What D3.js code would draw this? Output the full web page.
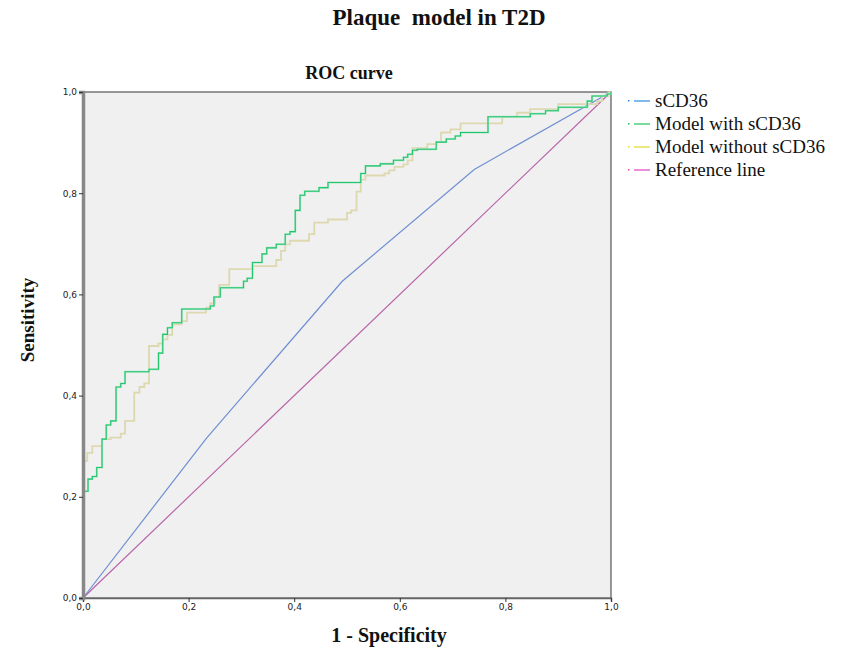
<!DOCTYPE html>
<html lang="en">
  <head>
    <meta charset="utf-8">
    <title>Plaque model in T2D | ROC curve</title>
    <script type="text/javascript" src="https://cdn.jsdelivr.net/npm/d3@7"></script>
    <style>
    body { margin: 0; background: #fff; }
    .tick text { font-family: "DejaVu Sans", sans-serif; font-size: 9px; fill: #222; }
    .ttl { font-family: "Liberation Serif", serif; font-weight: bold; fill: #111; }
    .leg { font-family: "Liberation Serif", serif; font-size: 19px; fill: #111; }
    </style>
  </head>
  <body>
    <div id="vis"></div>
    <script type="text/javascript">

      // values: [1 - specificity, sensitivity]
      var sCD36 = [[0, 0], [0.234, 0.316], [0.491, 0.626], [0.741, 0.847], [1, 1]];

      var withSCD36 = [
        [0, 0], [0, 0.211], [0.0095, 0.235], [0.0176, 0.240], [0.026, 0.258], [0.036, 0.314],
        [0.044, 0.342], [0.0525, 0.350], [0.0626, 0.417], [0.0715, 0.424], [0.0796, 0.447],
        [0.125, 0.452], [0.143, 0.484], [0.151, 0.521], [0.160, 0.534], [0.169, 0.544],
        [0.187, 0.571], [0.241, 0.577], [0.248, 0.595], [0.260, 0.613], [0.304, 0.626],
        [0.311, 0.632], [0.321, 0.663], [0.339, 0.680], [0.348, 0.692], [0.366, 0.699],
        [0.383, 0.719], [0.392, 0.724], [0.402, 0.766], [0.411, 0.796], [0.420, 0.804],
        [0.447, 0.811], [0.464, 0.821], [0.526, 0.839], [0.535, 0.854], [0.563, 0.858],
        [0.588, 0.865], [0.607, 0.871], [0.615, 0.877], [0.624, 0.885], [0.633, 0.887],
        [0.669, 0.901], [0.688, 0.907], [0.705, 0.913], [0.715, 0.920], [0.767, 0.951],
        [0.847, 0.957], [0.876, 0.963], [0.900, 0.970], [0.955, 0.982], [0.964, 0.992],
        [0.993, 0.996], [1, 1]
      ];

      var withoutSCD36 = [
        [0, 0], [0, 0.271], [0.008, 0.287], [0.0176, 0.300], [0.036, 0.314], [0.0525, 0.317],
        [0.0715, 0.325], [0.0796, 0.350], [0.097, 0.406], [0.107, 0.417], [0.116, 0.424],
        [0.125, 0.498], [0.143, 0.503], [0.151, 0.511], [0.160, 0.520], [0.169, 0.541],
        [0.187, 0.547], [0.197, 0.564], [0.233, 0.574], [0.241, 0.582], [0.250, 0.595],
        [0.258, 0.619], [0.277, 0.650], [0.321, 0.656], [0.366, 0.668], [0.375, 0.686],
        [0.383, 0.699], [0.392, 0.706], [0.428, 0.719], [0.438, 0.742], [0.464, 0.748],
        [0.500, 0.761], [0.508, 0.766], [0.518, 0.803], [0.526, 0.827], [0.535, 0.835],
        [0.571, 0.839], [0.580, 0.845], [0.590, 0.852], [0.607, 0.857], [0.615, 0.865],
        [0.624, 0.889], [0.652, 0.897], [0.669, 0.901], [0.678, 0.920], [0.696, 0.926],
        [0.715, 0.938], [0.794, 0.951], [0.822, 0.959], [0.847, 0.966], [0.900, 0.976],
        [0.974, 0.982], [0.983, 0.992], [0.995, 0.999], [1, 1]
      ];

      var referenceLine = [[0, 0], [1, 1]];

      var tickValues = [0, 0.2, 0.4, 0.6, 0.8, 1.0];
      var legendNames = ["sCD36", "Model with sCD36", "Model without sCD36", "Reference line"];
      var legendColors = ["#2b8be0", "#1fc45a", "#e2d925", "#e043c4"];

      var W = 843, H = 650;
      var margin = {top: 92, left: 83},
          width = 528,
          height = 506;

      var svg = d3.select("#vis").append("svg")
          .attr("width", W)
          .attr("height", H);

      svg.append("text").attr("class", "ttl")
          .attr("x", 439).attr("y", 25)
          .attr("text-anchor", "middle")
          .style("font-size", "23px")
          .style("white-space", "pre")
          .attr("xml:space", "preserve")
          .text("Plaque  model in T2D");

      svg.append("text").attr("class", "ttl")
          .attr("x", 349).attr("y", 79)
          .attr("text-anchor", "middle")
          .style("font-size", "18px")
          .text("ROC curve");

      var g = svg.append("g")
          .attr("transform", "translate(" + margin.left + "," + margin.top + ")");

      var x = d3.scaleLinear().domain([0, 1]).range([0, width]);
      var y = d3.scaleLinear().domain([0, 1]).range([height, 0]);
      var fmt = function(d) { return d3.format(".1f")(d).replace(".", ","); };

      g.append("rect")
          .attr("width", width).attr("height", height)
          .attr("fill", "#f0f0f0")
          .attr("stroke", "#555").attr("stroke-width", 1.2);

      // curves
      var straight = d3.line().x(function(d) { return x(d[0]); }).y(function(d) { return y(d[1]); });
      var step = d3.line().x(function(d) { return x(d[0]); }).y(function(d) { return y(d[1]); })
          .curve(d3.curveStepAfter);

      g.append("path").datum(referenceLine)
          .attr("d", straight).attr("fill", "none")
          .attr("stroke", "#b865a8").attr("stroke-width", 1.2);

      g.append("path").datum(sCD36)
          .attr("d", straight).attr("fill", "none")
          .attr("stroke", "#6f8fd2").attr("stroke-width", 1.2);

      g.append("path").datum(withoutSCD36)
          .attr("d", step).attr("fill", "none")
          .attr("stroke", "#ddd8b0").attr("stroke-width", 1.8);

      g.append("path").datum(withSCD36)
          .attr("d", step).attr("fill", "none")
          .attr("stroke", "#a8e6c4").attr("stroke-width", 2);
      g.append("path").datum(withSCD36)
          .attr("d", step).attr("fill", "none")
          .attr("stroke", "#22c46c").attr("stroke-width", 1.1);

      // axes
      var xAxis = g.append("g")
          .attr("transform", "translate(0," + height + ")")
          .call(d3.axisBottom(x).tickValues(tickValues).tickFormat(fmt).tickSize(4).tickPadding(2));
      var yAxis = g.append("g")
          .call(d3.axisLeft(y).tickValues(tickValues).tickFormat(fmt).tickSize(4).tickPadding(2));
      xAxis.select(".domain").attr("stroke", "#666").attr("stroke-width", 1.5);
      yAxis.select(".domain").attr("stroke", "#888").attr("stroke-width", 3.5);
      svg.selectAll(".tick line").attr("stroke", "#333");

      svg.append("text").attr("class", "ttl")
          .attr("x", 389).attr("y", 642)
          .attr("text-anchor", "middle")
          .style("font-size", "20px")
          .text("1 - Specificity");

      svg.append("text").attr("class", "ttl")
          .attr("transform", "translate(34," + 320 + ") rotate(-90)")
          .attr("text-anchor", "middle")
          .style("font-size", "19px")
          .text("Sensitivity");

      // legend
      var leg = svg.append("g").attr("transform", "translate(628,101)");
      var rows = leg.selectAll("g").data(legendNames).enter().append("g")
          .attr("transform", function(d, i) { return "translate(0," + i * 23 + ")"; });
      rows.append("rect")
          .attr("x", 0).attr("y", -1).attr("width", 1.5).attr("height", 1.5)
          .attr("fill", function(d, i) { return legendColors[i]; });
      rows.append("line")
          .attr("x1", 6).attr("x2", 22).attr("y1", 0).attr("y2", 0)
          .attr("stroke", function(d, i) { return legendColors[i]; })
          .attr("stroke-width", 1.2);
      rows.append("text").attr("class", "leg")
          .attr("x", 27).attr("y", 6)
          .text(function(d) { return d; });

    </script>
  </body>
</html>
